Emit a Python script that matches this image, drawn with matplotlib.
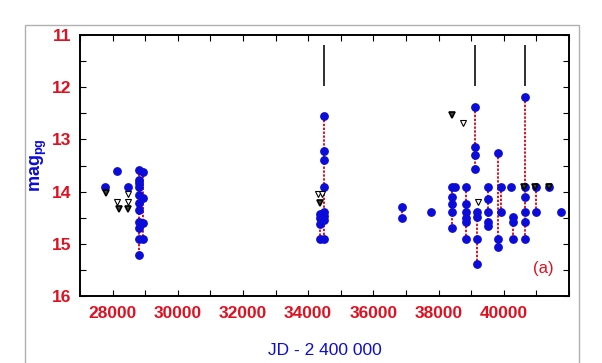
import numpy as np
import matplotlib.pyplot as plt
from matplotlib.patches import Rectangle
from matplotlib.ticker import MultipleLocator

#%% Datos
# noches de observacion: JD - 2400000 y magnitudes medidas esa noche
night_jd = [27770, 28140, 28477, 28820, 28920, 34470, 34350, 36868, 37760,
            38420, 38500, 38830, 39123, 39170, 39505, 39830, 39910, 40220,
            40290, 40640, 41000, 41380, 41760]
night_mag = [[13.92],
             [13.61],
             [13.92],
             [13.59, 13.77, 13.83, 13.92, 14.07, 14.22, 14.35, 14.58, 14.70, 14.90, 15.21],
             [13.62, 14.13, 14.61, 14.90],
             [12.55, 13.23, 13.40, 13.91, 14.40, 14.47, 14.55, 14.90],
             [14.42, 14.50, 14.63, 14.90],
             [14.30, 14.51],
             [14.40],
             [13.92, 14.10, 14.24, 14.40, 14.69],
             [13.92],
             [13.92, 14.24, 14.40, 14.51, 14.59, 14.90],
             [12.38, 13.14, 13.30, 13.57],
             [14.40, 14.48, 14.90, 15.39],
             [13.92, 14.15, 14.40, 14.58, 14.65],
             [13.27, 14.91, 15.06],
             [13.92, 14.40],
             [13.92],
             [14.48, 14.58, 14.91],
             [12.19, 13.92, 14.11, 14.40, 14.58, 14.90],
             [13.92, 14.40],
             [13.92],
             [14.40]]

# limites superiores (triangulos)
ulim_jd = [28150, 28467, 28467, 34310, 34420, 38763, 39215]
ulim_mag = [14.19, 14.05, 14.19, 14.05, 14.05, 12.69, 14.20]
ulim_bold_jd = [27800, 28190, 28487, 34364, 38406, 40620, 40970, 41380]
ulim_bold_mag = [14.03, 14.34, 14.34, 14.21, 12.53, 13.92, 13.92, 13.92]

# marcas verticales negras arriba
mark_jd = [34487, 39123, 40640]
mark_top = 11.19
mark_bottom = 11.98

xticks = [28000, 30000, 32000, 34000, 36000, 38000, 40000]
yticks = [11, 12, 13, 14, 15, 16]

red = '#e01020'
blue = '#0c0cd8'

#%% Grafico
plt.rcParams['font.family'] = ['Liberation Sans', 'DejaVu Sans']
plt.rcParams['mathtext.fontset'] = 'custom'
plt.rcParams['mathtext.rm'] = 'Liberation Sans'
plt.rcParams['mathtext.bf'] = 'Liberation Sans:bold'

fig = plt.figure(figsize=(6.02, 3.63), dpi=100)
ax = fig.add_axes([80/602, 1-296/363, 489/602, 261/363])

# marco gris exterior
fig.patches.append(Rectangle((25/602, -0.05), 554/602, 1.05-25/363,
                             transform=fig.transFigure, fill=False,
                             edgecolor='#b0b0b0', lw=1.0))

for jd, mags in zip(night_jd, night_mag):
    if len(mags) > 1:
        ax.plot([jd]*len(mags), mags, color=red, lw=1.4,
                linestyle=(0, (1.2, 0.8)), zorder=2)
    ax.plot([jd]*len(mags), mags, 'o', color=blue, ms=5.3, mec=blue, zorder=3)

ax.plot(ulim_jd, ulim_mag, 'v', ms=4.5, mfc='white', mec='black', mew=0.8, zorder=4)
ax.plot(ulim_bold_jd, ulim_bold_mag, 'v', ms=5, mfc='#444444', mec='black', mew=1.2, zorder=4)

ax.vlines(mark_jd, mark_top, mark_bottom, color='#303030', lw=1.4)

ax.set_xlim(27000, 42000)
ax.set_ylim(16, 11)
ax.set_xticks(xticks)
ax.set_yticks(yticks)
ax.xaxis.set_minor_locator(MultipleLocator(1000))
ax.yaxis.set_minor_locator(MultipleLocator(0.5))
ax.tick_params(which='both', direction='in', top=True, right=True,
               length=4, width=0.8, labelsize=12.5, labelcolor=red)
ax.tick_params(axis='x', pad=7)
ax.tick_params(axis='y', pad=6)
for lab in ax.get_xticklabels() + ax.get_yticklabels():
    lab.set_fontweight('bold')
for s in ax.spines.values():
    s.set_linewidth(1.4)

ax.set_xlabel('JD - 2 400 000', color=blue, fontsize=12.5, labelpad=16)
ax.set_ylabel(r'$\mathbf{mag}_{\mathbf{pg}}$', color=blue, fontsize=13, labelpad=2)
ax.text(41207, 15.47, '(a)', color=red, fontsize=12, ha='center', va='center')

plt.savefig('out.png', dpi=100)
